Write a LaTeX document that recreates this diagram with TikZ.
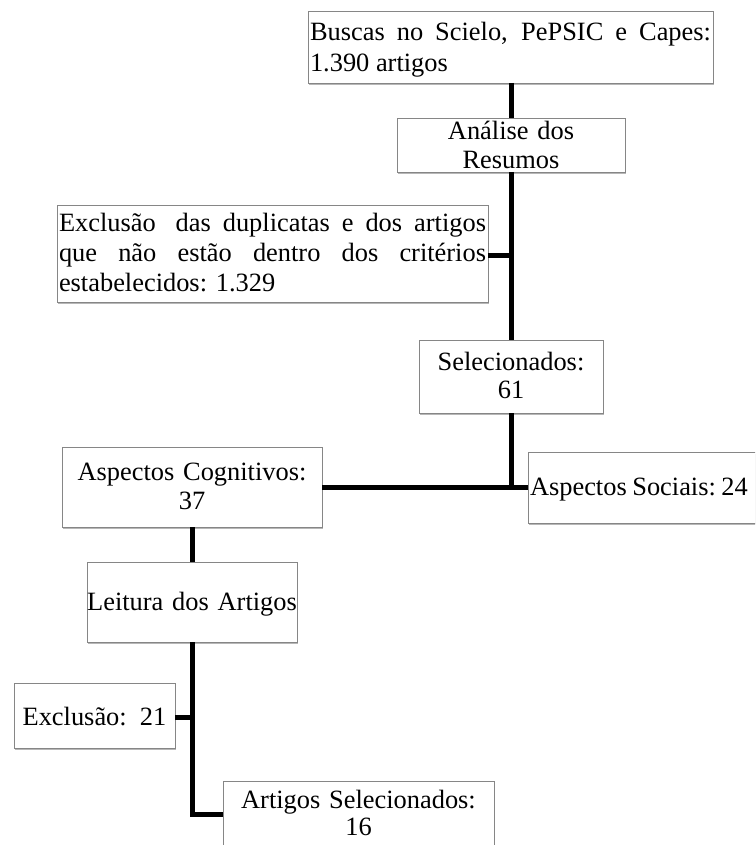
\documentclass[tikz,border=0pt]{standalone}
\usepackage{fontspec}
\setmainfont{Liberation Serif}
\usetikzlibrary{shadows}
\tikzset{
  box/.style={draw=gray!95, line width=0.9pt, fill=white, outer sep=0pt, inner ysep=0pt,
    drop shadow={shadow xshift=1.2pt, shadow yshift=-2.4pt, opacity=0.4, fill=black!70}},
  jbox/.style={box, inner xsep=2pt, align=justify},
  cbox/.style={box, inner xsep=0pt, align=center},
  lbox/.style={box, inner xsep=2pt, align=left},
  link/.style={line width=5pt, black},
}
\begin{document}
\begin{tikzpicture}[x=1pt,y=-1pt]
\useasboundingbox (0,0) rectangle (755,845);
\clip (0,0) rectangle (755,845);

\node[jbox, text width=401pt, text height=30pt, text depth=42pt,
  font=\fontsize{26.4}{30.5}\selectfont] (buscas) at (510.5,47)
  {Buscas no Scielo, PePSIC e Capes:\linebreak 1.390 artigos};

\node[cbox, text width=228pt, text height=21.3pt, text depth=32.7pt,
  font=\fontsize{26.4}{29}\selectfont] (analise) at (511,145)
  {Análise dos\\Resumos};

\node[jbox, text width=427pt, text height=26.7pt, text depth=70.3pt,
  font=\fontsize{26.4}{30}\selectfont] (excl1) at (272.5,253.5)
  {Exclusão\hspace{0.3em} das duplicatas e dos artigos\linebreak que não estão dentro dos critérios\linebreak estabelecidos: 1.329};

\node[cbox, text width=184pt, text height=30.7pt, text depth=42.3pt,
  font=\fontsize{26.4}{27.6}\selectfont] (sel) at (511,376.5)
  {Selecionados:\\61};

\node[cbox, text width=260pt, text height=33.7pt, text depth=46.3pt,
  font=\fontsize{26.4}{28.3}\selectfont] (cog) at (192,487)
  {Aspectos Cognitivos:\\37};

\node[lbox, text width=228pt, text height=43pt, text depth=28pt,
  font=\fontsize{26.4}{28}\selectfont] (soc) at (644,487.5)
  {Aspectos\hspace{0.21em}Sociais:\hspace{0.21em}24};

\node[cbox, text width=210pt, text height=48pt, text depth=32pt,
  font=\fontsize{26.4}{28}\selectfont] (leit) at (192,602)
  {Leitura dos Artigos};

\node[cbox, text width=161pt, text height=42pt, text depth=23pt,
  font=\fontsize{26.4}{28}\selectfont] (excl2) at (94.5,715.5)
  {Exclusão: 21};

\node[cbox, text width=271pt, text height=27.3pt, text depth=52.7pt,
  font=\fontsize{26.4}{26.7}\selectfont] (art) at (358.5,821)
  {Artigos Selecionados:\\16};

\coordinate (artin) at (223,814);

\draw[link] (buscas.south -| analise.north) -- (analise.north);
\draw[link] (analise.south) -- (sel.north);
\draw[link] ([yshift=-1.5pt]excl1.east) -- ([yshift=-1.5pt]excl1.east -| analise.south);
\draw[link] (sel.south) -- (sel.south |- cog.east);
\draw[link] (cog.east) -- (cog.east -| soc.west);
\draw[link] (cog.south) -- (leit.north);
\draw[link] (leit.south) |- (artin);
\draw[link] ([yshift=-1.5pt]excl2.east) -- ([yshift=-1.5pt]excl2.east -| leit.south);
\end{tikzpicture}
\end{document}
